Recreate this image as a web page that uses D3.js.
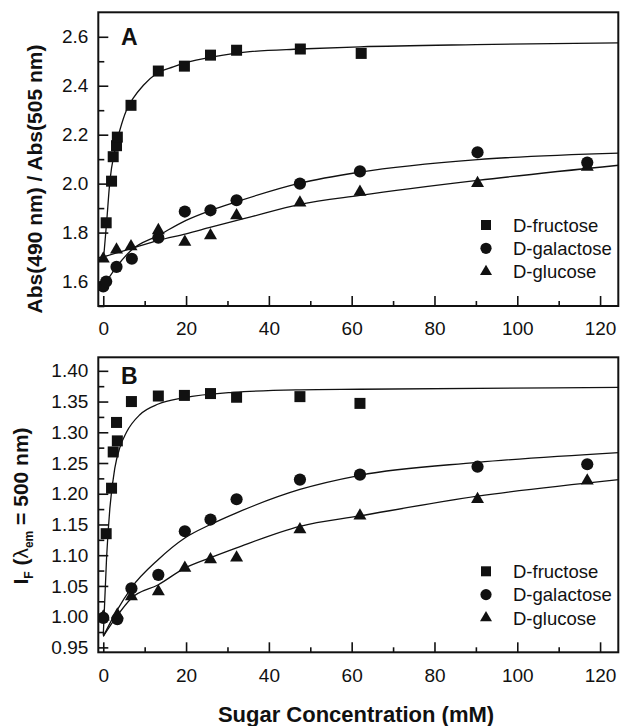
<!DOCTYPE html>
<html>
<head>
<meta charset="utf-8">
<script src="https://cdn.jsdelivr.net/npm/d3@7"></script>
<style>
  body { margin: 0; background: #fff; }
  svg { display: block; font-family: "Liberation Sans", Arial, sans-serif; }
  .tick text { font-size: 19px; fill: #111; }
  .tick line { stroke: #111; stroke-width: 1.6; }
</style>
</head>
<body>
<svg id="chart"></svg>
<script>
// sugars and markers
const sugars = ["D-fructose", "D-galactose", "D-glucose"];
const shapes = ["square", "circle", "triangle"];
const xTicks = [0, 20, 40, 60, 80, 100, 120];

// panel A : absorbance ratio, measured points
const concFruA = [0.7, 2.0, 2.4, 3.2, 3.4, 6.7, 13.3, 19.6, 25.9, 32.2, 47.6, 62.3];
const absFru = [1.84, 2.01, 2.11, 2.155, 2.19, 2.32, 2.46, 2.48, 2.525, 2.545, 2.55, 2.532];
const concGalA = [0, 0.7, 3.2, 6.9, 13.3, 19.7, 25.9, 32.2, 47.5, 62.0, 90.4, 116.9];
const absGal = [1.58, 1.60, 1.66, 1.693, 1.779, 1.886, 1.891, 1.932, 2.0, 2.05, 2.128, 2.086];
const concGluA = [0, 3.2, 6.7, 13.3, 19.7, 25.9, 32.2, 47.5, 62.0, 90.4, 116.9];
const absGlu = [1.693, 1.73, 1.743, 1.809, 1.761, 1.788, 1.87, 1.922, 1.966, 2.002, 2.068];

// panel A : fitted curves
const fitFruAx = [0, 0.8, 1.6, 2.8, 4, 5.6, 7.2, 9.7, 12.9, 16.9, 20.9, 29, 35.4, 47.5, 62, 90, 124.5];
const fitFruAy = [1.68, 1.84, 2.01, 2.136, 2.218, 2.30, 2.348, 2.402, 2.45, 2.477, 2.498, 2.525, 2.539, 2.55, 2.559, 2.568, 2.575];
const fitGalAx = [0, 3.2, 6.7, 13.3, 20, 26, 32, 47.5, 62, 90.4, 124.5];
const fitGalAy = [1.58, 1.66, 1.727, 1.788, 1.85, 1.891, 1.925, 2.002, 2.047, 2.098, 2.125];
const fitGluAx = [0, 3, 6.7, 13.3, 20, 26, 35.4, 47.5, 62, 90.4, 124.5];
const fitGluAy = [1.70, 1.716, 1.734, 1.768, 1.795, 1.822, 1.863, 1.915, 1.952, 2.013, 2.075];

// panel B : fluorescence intensity, measured points
const concFruB = [0.7, 2.0, 2.4, 3.2, 3.4, 6.8, 13.3, 19.6, 25.9, 32.2, 47.5, 62.0];
const fluFru = [1.135, 1.209, 1.268, 1.316, 1.286, 1.35, 1.359, 1.36, 1.363, 1.357, 1.358, 1.347];
const concGalB = [0, 3.4, 6.8, 13.3, 19.7, 25.9, 32.2, 47.5, 62.0, 90.4, 116.9];
const fluGal = [0.998, 0.996, 1.046, 1.068, 1.139, 1.158, 1.191, 1.223, 1.231, 1.244, 1.248];
const concGluB = [0, 3.4, 6.8, 13.3, 19.7, 25.9, 32.2, 47.5, 62.0, 90.4, 116.9];
const fluGlu = [1.0, 1.003, 1.033, 1.041, 1.079, 1.093, 1.096, 1.142, 1.164, 1.191, 1.221];

// panel B : fitted curves
const fitFruBx = [0, 0.8, 1.6, 2.8, 4, 5.6, 8.9, 13.3, 19.4, 31.5, 47.5, 62, 124.5];
const fitFruBy = [0.97, 1.096, 1.177, 1.242, 1.275, 1.30, 1.329, 1.346, 1.356, 1.365, 1.369, 1.370, 1.373];
const fitGalBx = [0, 3.2, 6.8, 13.3, 19.7, 25.9, 32.2, 47.5, 62, 90.4, 124.5];
const fitGalBy = [0.968, 1.009, 1.047, 1.093, 1.128, 1.15, 1.169, 1.207, 1.230, 1.251, 1.267];
const fitGluBx = [0, 3.2, 6.8, 13.3, 19.7, 25.9, 32.2, 47.5, 62, 90.4, 124.5];
const fitGluBy = [0.968, 1.0, 1.03, 1.052, 1.079, 1.096, 1.112, 1.147, 1.164, 1.196, 1.223];

const yTicksA = [1.6, 1.8, 2.0, 2.2, 2.4, 2.6];
const yMinorA = [1.5, 1.7, 1.9, 2.1, 2.3, 2.5, 2.7];
const yTicksB = [0.95, 1.00, 1.05, 1.10, 1.15, 1.20, 1.25, 1.30, 1.35, 1.40];
const yMinorB = [0.975, 1.025, 1.075, 1.125, 1.175, 1.225, 1.275, 1.325, 1.375, 1.425];

const width = 621, height = 726;
const svg = d3.select("#chart").attr("width", width).attr("height", height);
svg.append("rect").attr("width", width).attr("height", height).attr("fill", "#fff");

const x0 = 98.3, x1 = 618.3;
const x = d3.scaleLinear().domain([-1.2, 124.4]).range([x0, x1]);

const zip = (a, b) => a.map((d, i) => [d, b[i]]);

function marker(g, shape, cx, cy, s) {
  if (shape === "square") {
    g.append("rect").attr("x", cx - s / 2).attr("y", cy - s / 2)
      .attr("width", s).attr("height", s).attr("fill", "#111");
  } else if (shape === "circle") {
    g.append("circle").attr("cx", cx).attr("cy", cy).attr("r", s / 2 + 0.6).attr("fill", "#111");
  } else {
    const t = s + 2;
    g.append("path")
      .attr("d", d3.symbol(d3.symbolTriangle, t * t * Math.sqrt(3) / 4)())
      .attr("transform", "translate(" + cx + "," + (cy) + ")")
      .attr("fill", "#111");
  }
}

function panel(opt) {
  const y = d3.scaleLinear().domain(opt.yDomain).range([opt.bottom, opt.top]);
  const g = svg.append("g");
  const clipId = "clip" + opt.letter;
  svg.append("clipPath").attr("id", clipId).append("rect")
    .attr("x", x0).attr("y", opt.top).attr("width", x1 - x0).attr("height", opt.bottom - opt.top);

  // minor ticks
  g.append("g").attr("transform", "translate(0," + opt.bottom + ")")
    .call(d3.axisBottom(x).tickValues([10, 30, 50, 70, 90, 110]).tickSize(-5).tickFormat(""))
    .call(a => a.select(".domain").remove());
  g.append("g").attr("transform", "translate(" + x0 + ",0)")
    .call(d3.axisLeft(y).tickValues(opt.yMinor.filter(v => v < opt.yDomain[1])).tickSize(-6).tickFormat(""))
    .call(a => a.select(".domain").remove());
  // major ticks
  g.append("g").attr("transform", "translate(0," + opt.bottom + ")")
    .call(d3.axisBottom(x).tickValues(xTicks).tickSize(-10).tickPadding(16).tickFormat(d3.format("d")))
    .call(a => a.select(".domain").remove());
  g.append("g").attr("transform", "translate(" + x0 + ",0)")
    .call(d3.axisLeft(y).tickValues(opt.yTicks).tickSize(-10).tickPadding(10).tickFormat(d3.format(opt.fmt)))
    .call(a => a.select(".domain").remove());

  // frame
  g.append("rect").attr("x", x0).attr("y", opt.top)
    .attr("width", x1 - x0).attr("height", opt.bottom - opt.top)
    .attr("fill", "none").attr("stroke", "#111").attr("stroke-width", 2);

  // fitted curves
  const line = d3.line().x(d => x(d[0])).y(d => y(d[1])).curve(d3.curveMonotoneX);
  const plot = g.append("g").attr("clip-path", "url(#" + clipId + ")");
  opt.fits.forEach(f => {
    plot.append("path").attr("d", line(f)).attr("fill", "none")
      .attr("stroke", "#111").attr("stroke-width", 1.3);
  });

  // points
  opt.points.forEach((pts, k) => {
    pts.forEach(p => marker(plot, shapes[k], x(p[0]), y(p[1]), 11));
  });

  // panel letter
  g.append("text").attr("x", 121).attr("y", opt.letterY)
    .attr("font-size", 23).attr("font-weight", "bold").attr("fill", "#111").text(opt.letter);

  // legend
  const leg = g.append("g");
  sugars.forEach((s, k) => {
    const ly = opt.bottom - 81 + k * 23.3;
    marker(leg, shapes[k], 486, ly, 10);
    leg.append("text").attr("x", 513).attr("y", ly).attr("dy", "0.36em")
      .attr("font-size", 18.5).attr("fill", "#111").text(s);
  });
  return g;
}

panel({
  letter: "A", letterY: 45, top: 12.3, bottom: 306,
  yDomain: [1.5, 2.7], yTicks: yTicksA, yMinor: yMinorA, fmt: ".1f",
  points: [zip(concFruA, absFru), zip(concGalA, absGal), zip(concGluA, absGlu)],
  fits: [zip(fitFruAx, fitFruAy), zip(fitGalAx, fitGalAy), zip(fitGluAx, fitGluAy)]
});

panel({
  letter: "B", letterY: 383.5, top: 357.3, bottom: 652.3,
  yDomain: [0.942, 1.422], yTicks: yTicksB, yMinor: yMinorB, fmt: ".2f",
  points: [zip(concFruB, fluFru), zip(concGalB, fluGal), zip(concGluB, fluGlu)],
  fits: [zip(fitFruBx, fitFruBy), zip(fitGalBx, fitGalBy), zip(fitGluBx, fitGluBy)]
});

// axis titles
svg.append("text").attr("transform", "translate(42,179) rotate(-90)")
  .attr("text-anchor", "middle").attr("font-size", 21).attr("font-weight", "bold").attr("fill", "#111")
  .text("Abs(490 nm) / Abs(505 nm)");

const tb = svg.append("text").attr("transform", "translate(28,506) rotate(-90)")
  .attr("text-anchor", "middle").attr("font-size", 21).attr("font-weight", "bold").attr("fill", "#111");
tb.append("tspan").text("I");
tb.append("tspan").attr("font-size", 12).attr("dy", 5).text("F");
tb.append("tspan").attr("dy", -5).text(" (");
tb.append("tspan").attr("font-weight", "normal").text("λ");
tb.append("tspan").attr("font-size", 12).attr("dy", 5).text("em");
tb.append("tspan").attr("dy", -5).text(" = 500 nm)");

svg.append("text").attr("x", 356).attr("y", 722)
  .attr("text-anchor", "middle").attr("font-size", 22).attr("font-weight", "bold").attr("fill", "#111")
  .text("Sugar Concentration (mM)");
</script>
</body>
</html>
